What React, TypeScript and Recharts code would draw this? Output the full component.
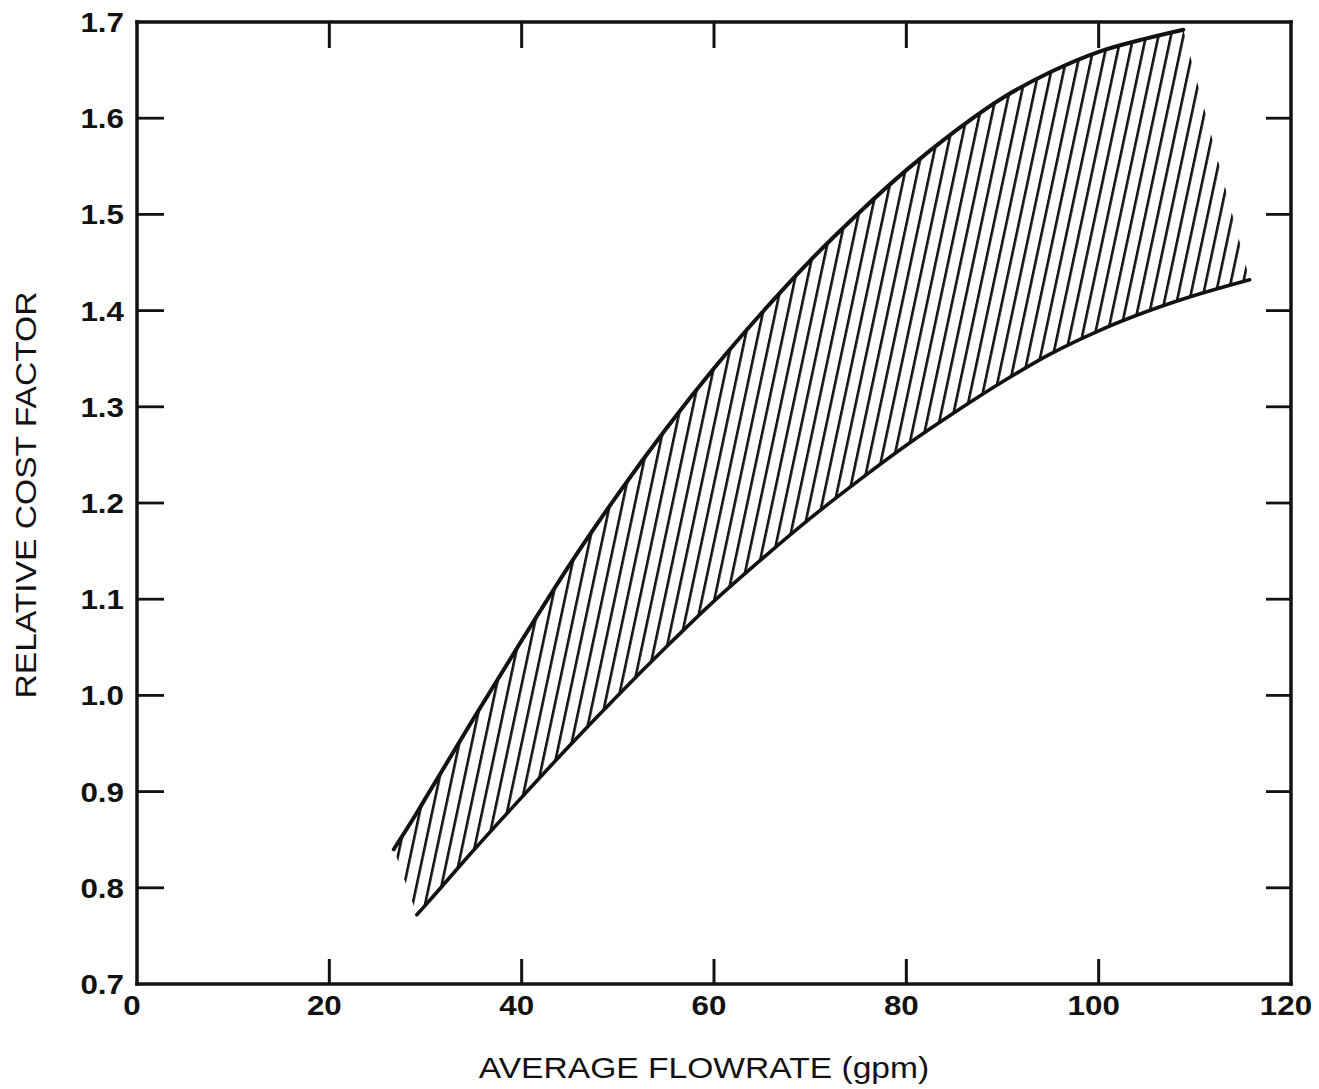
import { ComposedChart, Area, Line, XAxis, YAxis } from 'recharts';

const flowTicks = [0, 20, 40, 60, 80, 100, 120];
const costTicks = [0.7, 0.8, 0.9, 1.0, 1.1, 1.2, 1.3, 1.4, 1.5, 1.6, 1.7];

// upper boundary of the band
const flowUpper = [26.7, 29.1, 30, 35, 40, 45, 50, 55, 60, 65, 70, 75, 80, 85, 90, 95, 100, 105, 108.8];
const costUpper = [0.84, 0.878, 0.893, 0.976, 1.057, 1.136, 1.209, 1.277, 1.34, 1.398, 1.452, 1.501, 1.546, 1.586, 1.621, 1.648, 1.669, 1.683, 1.692];

// lower boundary of the band
const flowLower = [29.1, 30, 35, 40, 45, 50, 55, 60, 65, 70, 75, 80, 85, 90, 95, 100, 105, 108.8, 115.7];
const costLower = [0.772, 0.782, 0.839, 0.894, 0.948, 1.0, 1.05, 1.098, 1.142, 1.184, 1.223, 1.26, 1.294, 1.326, 1.355, 1.379, 1.399, 1.412, 1.432];

const upperRows = flowUpper.map((x, i) => ({ x, cost: costUpper[i] }));
const lowerRows = flowLower.map((x, i) => ({ x, cost: costLower[i] }));

// hatched region: tip at each end, both bounds where they overlap
const bandRows = [
  { x: flowUpper[0], range: [costUpper[0], costUpper[0]] },
  ...flowLower
    .filter((x) => flowUpper.includes(x))
    .map((x) => ({
      x,
      range: [costLower[flowLower.indexOf(x)], costUpper[flowUpper.indexOf(x)]],
    })),
  {
    x: flowLower[flowLower.length - 1],
    range: [costLower[costLower.length - 1], costLower[costLower.length - 1]],
  },
];

const INK = '#121212';
const FONT = '"Liberation Sans", Arial, Helvetica, sans-serif';
const TICK_LEN = 27;
const STRETCH = 'scale(1.12,1)';
const frame = { stroke: INK, strokeWidth: 3.5, strokeLinecap: 'square' as const };

const LeftTick = ({ x, y, payload }: any) => {
  const v = payload.value;
  const inner = v > 0.71 && v < 1.69;
  return (
    <g>
      {inner && <line x1={x} x2={x + TICK_LEN} y1={y} y2={y} stroke={INK} strokeWidth={2.8} />}
      <text
        transform={`translate(${x - 13},${y + 10}) ${STRETCH}`}
        textAnchor="end"
        fontSize={28}
        fontWeight="bold"
        fontFamily={FONT}
        fill={INK}
      >
        {v.toFixed(1)}
      </text>
    </g>
  );
};

const RightTick = ({ x, y, payload }: any) => {
  const v = payload.value;
  if (v < 0.71 || v > 1.69) return <g />;
  return <line x1={x - TICK_LEN + 2} x2={x} y1={y} y2={y} stroke={INK} strokeWidth={2.8} />;
};

const BottomTick = ({ x, y, payload }: any) => {
  const v = payload.value;
  const inner = v > 0 && v < 120;
  return (
    <g>
      {inner && <line x1={x} x2={x} y1={y} y2={y - TICK_LEN + 2} stroke={INK} strokeWidth={3} />}
      <text
        transform={`translate(${x - 5},${y + 31}) ${STRETCH}`}
        textAnchor="middle"
        fontSize={28}
        fontWeight="bold"
        fontFamily={FONT}
        fill={INK}
      >
        {v}
      </text>
    </g>
  );
};

const TopTick = ({ x, y, payload }: any) => {
  const v = payload.value;
  if (v <= 0 || v >= 120) return <g />;
  return <line x1={x} x2={x} y1={y} y2={y + TICK_LEN - 1} stroke={INK} strokeWidth={3} />;
};

const renderYTitle = ({ viewBox }: any) => {
  const { x, y, height } = viewBox;
  return (
    <text
      transform={`translate(${x + 36},${y + height / 2 - 8}) rotate(-90) ${STRETCH}`}
      textAnchor="middle"
      fontSize={30}
      fontFamily={FONT}
      fill={INK}
    >
      RELATIVE COST FACTOR
    </text>
  );
};

const renderXTitle = ({ viewBox }: any) => {
  const { x, y, width } = viewBox;
  return (
    <text
      transform={`translate(${x + width / 2 - 10},${y + 94}) ${STRETCH}`}
      textAnchor="middle"
      fontSize={30}
      fontFamily={FONT}
      fill={INK}
    >
      AVERAGE FLOWRATE (gpm)
    </text>
  );
};

export default function App() {
  return (
    <div style={{ position: 'absolute', left: 0, top: 0, background: '#fff' }}>
      <ComposedChart width={1319} height={1089} margin={{ top: 21, right: 27, bottom: 0, left: 0 }}>
        <defs>
          <pattern
            id="hatch"
            width="12.2"
            height="12"
            patternUnits="userSpaceOnUse"
            patternTransform="rotate(12)"
          >
            <line x1="6" y1="-1" x2="6" y2="13" stroke={INK} strokeWidth="2.6" />
          </pattern>
        </defs>
        <XAxis
          xAxisId="bottom"
          type="number"
          dataKey="x"
          domain={[0, 120]}
          allowDataOverflow
          ticks={flowTicks}
          height={105}
          tickSize={0}
          tickMargin={0}
          tickLine={false}
          axisLine={frame}
          tick={BottomTick}
          label={renderXTitle}
        />
        <XAxis
          xAxisId="top"
          orientation="top"
          type="number"
          dataKey="x"
          domain={[0, 120]}
          allowDataOverflow
          ticks={flowTicks}
          height={1}
          tickSize={0}
          tickMargin={0}
          tickLine={false}
          axisLine={frame}
          tick={TopTick}
        />
        <YAxis
          yAxisId="left"
          type="number"
          domain={[0.7, 1.7]}
          allowDataOverflow
          ticks={costTicks}
          width={137}
          tickSize={0}
          tickMargin={0}
          tickLine={false}
          axisLine={frame}
          tick={LeftTick}
          label={renderYTitle}
        />
        <YAxis
          yAxisId="right"
          orientation="right"
          type="number"
          domain={[0.7, 1.7]}
          allowDataOverflow
          ticks={costTicks}
          width={1}
          tickSize={0}
          tickMargin={0}
          tickLine={false}
          axisLine={frame}
          tick={RightTick}
        />
        <Area
          xAxisId="bottom"
          yAxisId="left"
          data={bandRows}
          dataKey="range"
          type="linear"
          stroke="none"
          fill="url(#hatch)"
          fillOpacity={1}
          dot={false}
          activeDot={false}
          isAnimationActive={false}
        />
        {/* invisible copy bound to the top/right axes so the frame draws */}
        <Line
          xAxisId="top"
          yAxisId="right"
          data={upperRows}
          dataKey="cost"
          stroke="none"
          dot={false}
          activeDot={false}
          legendType="none"
          isAnimationActive={false}
        />
        <Line
          xAxisId="bottom"
          yAxisId="left"
          data={upperRows}
          dataKey="cost"
          type="monotone"
          stroke={INK}
          strokeWidth={4}
          strokeLinecap="round"
          dot={false}
          activeDot={false}
          isAnimationActive={false}
        />
        <Line
          xAxisId="bottom"
          yAxisId="left"
          data={lowerRows}
          dataKey="cost"
          type="monotone"
          stroke={INK}
          strokeWidth={3.6}
          strokeLinecap="round"
          dot={false}
          activeDot={false}
          isAnimationActive={false}
        />
      </ComposedChart>
    </div>
  );
}
